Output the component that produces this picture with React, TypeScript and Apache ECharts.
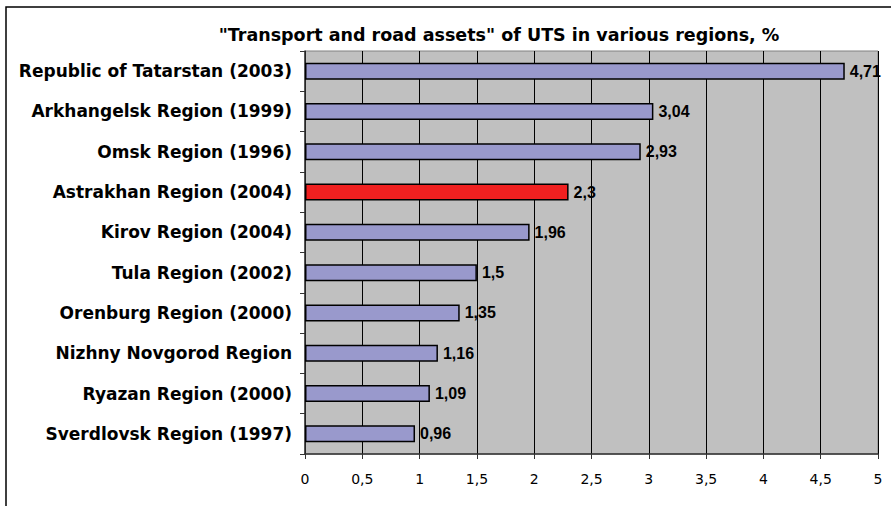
import React, { useEffect, useRef } from "react";
import * as echarts from "echarts";

const categories = [
  "Republic of Tatarstan (2003)",
  "Arkhangelsk Region (1999)",
  "Omsk Region (1996)",
  "Astrakhan Region (2004)",
  "Kirov Region (2004)",
  "Tula Region (2002)",
  "Orenburg Region (2000)",
  "Nizhny Novgorod Region",
  "Ryazan Region (2000)",
  "Sverdlovsk Region (1997)",
];
const values = [4.71, 3.04, 2.93, 2.3, 1.96, 1.5, 1.35, 1.16, 1.09, 0.96];
const highlighted = "Astrakhan Region (2004)";
const titleText = '"Transport and road assets" of UTS in various regions, %';

const fmt = (v: number) => String(v).replace(".", ",");

export default function App() {
  const ref = useRef<HTMLDivElement>(null);
  useEffect(() => {
    document.body.style.margin = "0";
    const chart = echarts.init(ref.current!, undefined, { renderer: "svg" });
    chart.setOption({
      animation: false,
      backgroundColor: "#ffffff",
      title: {
        text: titleText,
        left: 494,
        top: 21,
        textAlign: "center",
        textStyle: { fontFamily: "DejaVu Sans", fontWeight: "bold", fontSize: 17.5, color: "#000" },
      },
      graphic: [
        {
          type: "rect",
          shape: { x: 6, y: 7, width: 920, height: 540 },
          style: { fill: "none", stroke: "#000", lineWidth: 1.5 },
          silent: true,
        },
      ],
      grid: {
        left: 305,
        right: 13,
        top: 51,
        bottom: 52,
        show: true,
        backgroundColor: "#C0C0C0",
        borderColor: "#808080",
        borderWidth: 1,
      },
      xAxis: {
        type: "value",
        min: 0,
        max: 5,
        interval: 0.5,
        axisLine: { show: true, lineStyle: { color: "#333", width: 1.5 } },
        axisTick: { show: true, length: 5, lineStyle: { color: "#333" } },
        axisLabel: {
          formatter: (v: number) => fmt(v),
          color: "#000",
          fontFamily: "DejaVu Sans",
          fontSize: 14,
          margin: 18,
        },
        splitLine: { show: true, lineStyle: { color: "#000", width: 1 } },
      },
      yAxis: {
        type: "category",
        data: categories,
        inverse: true,
        axisLine: { show: true, lineStyle: { color: "#333", width: 1.5 } },
        axisTick: { show: true, length: 5, lineStyle: { color: "#333" } },
        axisLabel: {
          color: "#000",
          fontFamily: "DejaVu Sans",
          fontWeight: "bold",
          fontSize: 17,
          margin: 13,
        },
      },
      series: [
        {
          type: "bar",
          data: values.map((v, i) => ({
            value: v,
            itemStyle: {
              color: categories[i] === highlighted ? "#F02020" : "#9999CC",
            },
          })),
          barWidth: 17,
          itemStyle: { borderColor: "#000", borderWidth: 1.5 },
          label: {
            show: true,
            position: "right",
            distance: 5,
            formatter: (p: any) => fmt(p.value),
            color: "#000",
            fontFamily: "Liberation Sans",
            fontWeight: "bold",
            fontSize: 16,
          },
        },
      ],
    });
    return () => chart.dispose();
  }, []);
  return <div ref={ref} style={{ width: 891, height: 506 }} />;
}
